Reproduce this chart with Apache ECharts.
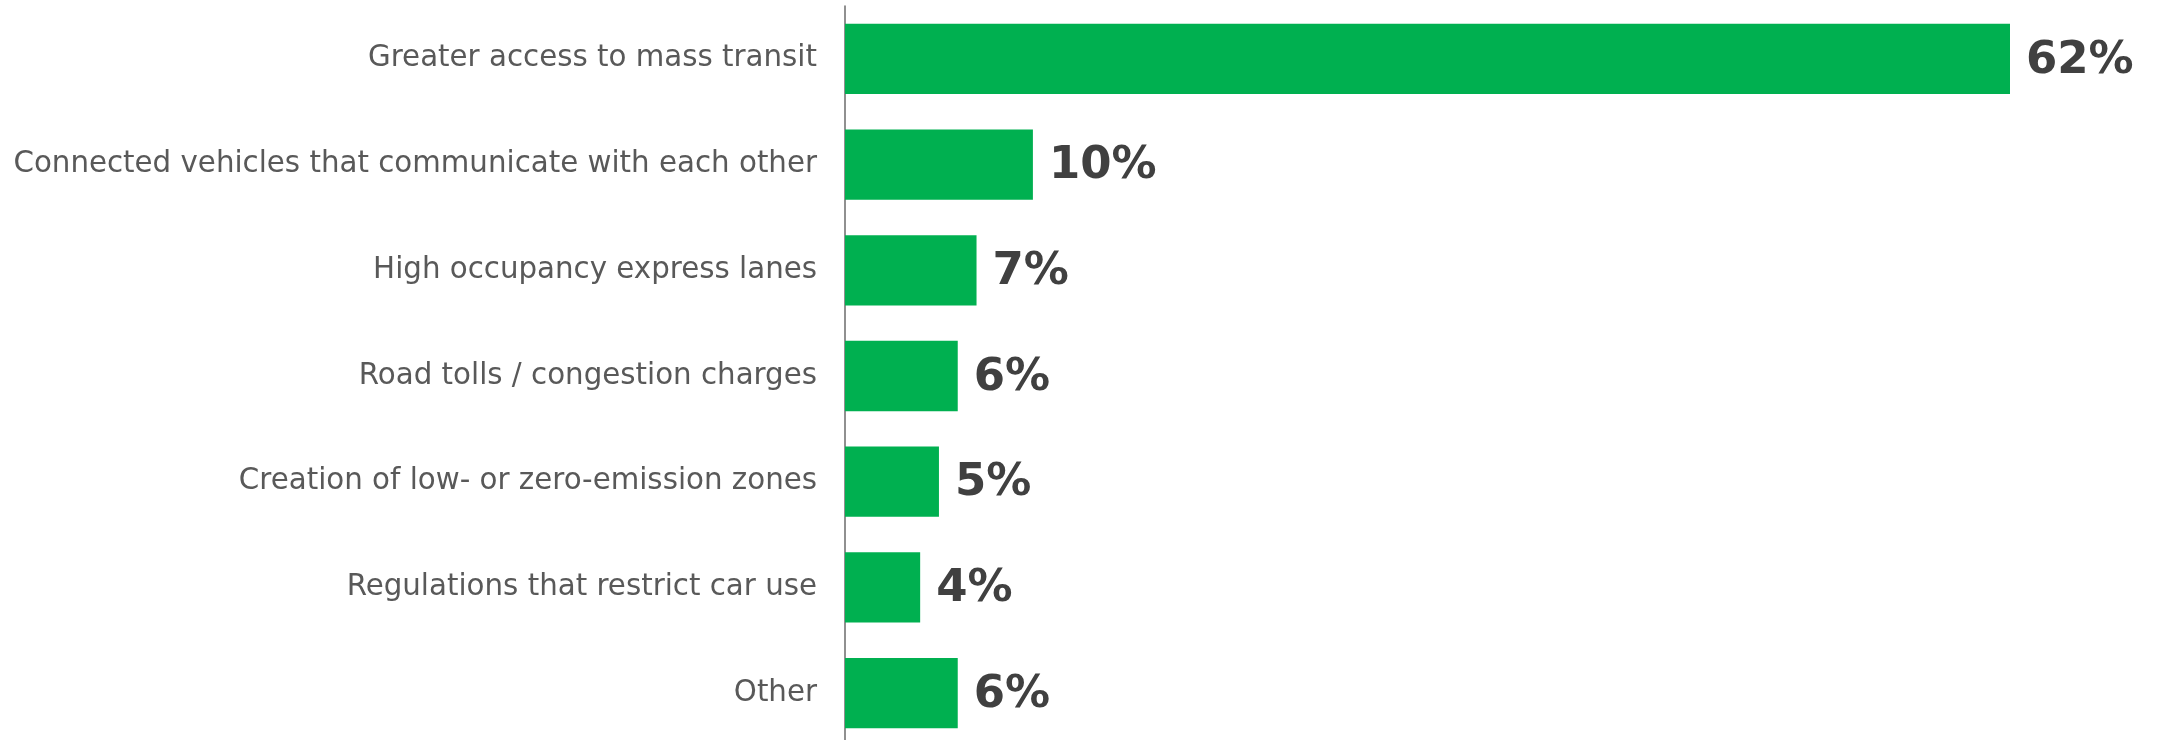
<!DOCTYPE html>
<html>
<head>
<meta charset="utf-8">
<script src="https://cdn.jsdelivr.net/npm/echarts@6/dist/echarts.min.js"></script>
<style>
  html, body { margin: 0; padding: 0; background: #ffffff; }
  #chart { width: 2161px; height: 740px; }
</style>
</head>
<body>
<div id="chart"></div>
<script>
// Survey answers, top to bottom
const categories = [
  'Greater access to mass transit',
  'Connected vehicles that communicate with each other',
  'High occupancy express lanes',
  'Road tolls / congestion charges',
  'Creation of low- or zero-emission zones',
  'Regulations that restrict car use',
  'Other'
];
const shares = [62, 10, 7, 6, 5, 4, 6];

const chart = echarts.init(document.getElementById('chart'), null, { renderer: 'canvas' });

chart.setOption({
  animation: false,
  backgroundColor: '#ffffff',
  grid: {
    left: 845, top: 6, width: 1165, height: 740,
    containLabel: false,
    outerBoundsMode: 'none'
  },
  xAxis: {
    type: 'value',
    min: 0,
    max: 62,
    show: false
  },
  yAxis: {
    type: 'category',
    inverse: true,
    data: categories,
    axisLine: { show: true, lineStyle: { color: '#6b6b6b', width: 1.5 } },
    axisTick: { show: false },
    axisLabel: {
      margin: 28,
      color: '#595959',
      fontFamily: 'DejaVu Sans',
      fontSize: 29.3
    }
  },
  series: [{
    type: 'bar',
    data: shares,
    barCategoryGap: '33.5%',
    itemStyle: { color: '#00B050' },
    label: {
      show: true,
      position: 'right',
      distance: 16,
      offset: [0, 2],
      formatter: '{c}%',
      color: '#404040',
      fontFamily: 'DejaVu Sans',
      fontWeight: 'bold',
      fontSize: 45
    }
  }]
});
</script>
</body>
</html>
